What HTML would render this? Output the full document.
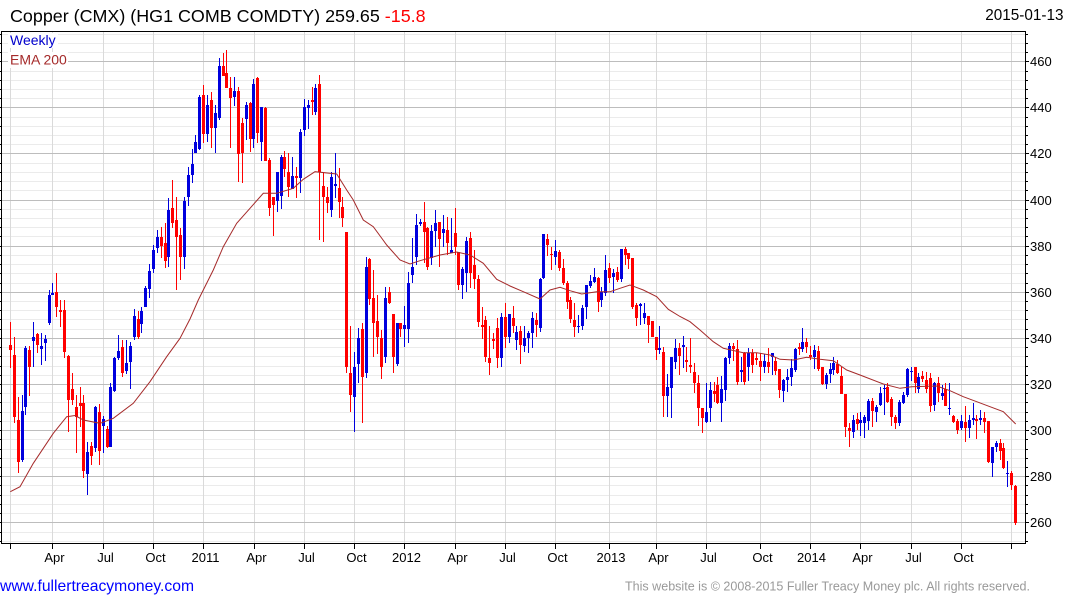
<!DOCTYPE html>
<html>
<head>
<meta charset="utf-8">
<style>
html,body{margin:0;padding:0;background:#fff;}
body{width:1075px;height:600px;overflow:hidden;position:relative;}
svg{position:absolute;left:0;top:0;}
text{font-family:"Liberation Sans",Arial,sans-serif;}
</style>
</head>
<body>
<svg width="1075" height="600" viewBox="0 0 1075 600" xmlns="http://www.w3.org/2000/svg">
<rect x="0" y="0" width="1075" height="600" fill="#fff"/>
<!-- minor horizontal grid -->
<path fill="none" stroke="#ebebeb" stroke-width="1" d="M2 34.5H1025M2 43.5H1025M2 52.5H1025M2 71.5H1025M2 80.5H1025M2 89.5H1025M2 98.5H1025M2 117.5H1025M2 126.5H1025M2 135.5H1025M2 144.5H1025M2 163.5H1025M2 172.5H1025M2 181.5H1025M2 190.5H1025M2 209.5H1025M2 218.5H1025M2 227.5H1025M2 236.5H1025M2 255.5H1025M2 264.5H1025M2 273.5H1025M2 283.5H1025M2 301.5H1025M2 310.5H1025M2 319.5H1025M2 329.5H1025M2 347.5H1025M2 356.5H1025M2 366.5H1025M2 375.5H1025M2 393.5H1025M2 402.5H1025M2 412.5H1025M2 421.5H1025M2 439.5H1025M2 449.5H1025M2 458.5H1025M2 467.5H1025M2 485.5H1025M2 495.5H1025M2 504.5H1025M2 513.5H1025M2 532.5H1025M2 541.5H1025"/>
<!-- vertical grid -->
<path fill="none" stroke="#dadada" stroke-width="1" d="M10.5 32V543M52.5 32V543M103.5 32V543M153.5 32V543M203.5 32V543M254.5 32V543M304.5 32V543M354.5 32V543M404.5 32V543M455.5 32V543M505.5 32V543M555.5 32V543M609.5 32V543M656.5 32V543M706.5 32V543M760.5 32V543M810.5 32V543M860.5 32V543M911.5 32V543M961.5 32V543M1011.5 32V543"/>
<!-- major horizontal grid -->
<path fill="none" stroke="#bdbdbd" stroke-width="1" d="M2 61.5H1025M2 107.5H1025M2 153.5H1025M2 200.5H1025M2 246.5H1025M2 292.5H1025M2 338.5H1025M2 384.5H1025M2 430.5H1025M2 476.5H1025M2 522.5H1025"/>

<!-- legend backgrounds -->
<rect x="8" y="33" width="50" height="15" fill="#fff"/>
<rect x="8" y="52" width="60" height="16" fill="#fff"/>
<text x="10" y="45" font-size="14" fill="#0000cc">Weekly</text>
<text x="10" y="64.5" font-size="14" fill="#a52a2a">EMA 200</text>

<!-- candles red -->
<path fill="none" stroke="#ff0000" stroke-width="1" d="M10.5 322V368M14.5 337V423M18.5 397V473M29.5 346V396M37.5 333V353M56.5 273V317M60.5 300V327M64.5 300V358M68.5 355V432M72.5 373V405M76.5 395V453M80.5 387V427M83.5 395V478M91.5 442V465M99.5 404V465M107.5 426V448M122.5 340V377M138.5 311V339M161.5 227V258M165.5 223V268M172.5 180V228M176.5 197V290M180.5 228V280M203.5 85V143M211.5 92V148M223.5 53V76M226.5 50V88M230.5 77V148M238.5 87V182M242.5 118V183M250.5 102V152M257.5 77V143M265.5 107V161M269.5 158V216M273.5 197V236M284.5 151V177M288.5 153V197M296.5 167V198M312.5 87V115M319.5 75V240M323.5 172V242M327.5 187V213M339.5 168V218M342.5 197V227M346.5 232V373M350.5 326V412M362.5 323V423M369.5 258V305M373.5 270V357M377.5 295V354M381.5 330V379M389.5 287V304M393.5 314V373M400.5 323V337M424.5 202V263M427.5 227V270M439.5 222V267M447.5 217V255M455.5 208V255M458.5 252V290M470.5 232V288M474.5 250V289M478.5 275V327M482.5 307V339M485.5 316V362M489.5 326V375M493.5 333V349M497.5 318V368M505.5 303V348M513.5 306V333M520.5 326V364M536.5 313V337M547.5 234V256M551.5 247V270M559.5 250V271M563.5 259V285M567.5 281V309M570.5 297V323M574.5 303V337M598.5 277V312M609.5 263V283M617.5 267V282M625.5 247V265M628.5 253V269M632.5 258V309M636.5 303V326M648.5 316V343M652.5 321V337M656.5 337V360M663.5 347V417M679.5 343V375M686.5 347V372M690.5 338V373M694.5 363V393M698.5 375V426M702.5 408V433M714.5 382V402M717.5 377V404M733.5 343V361M737.5 340V385M744.5 352V385M752.5 349V373M756.5 353V365M760.5 353V381M768.5 348V373M775.5 357V375M779.5 369V398M799.5 343V355M806.5 338V353M810.5 346V360M818.5 346V371M822.5 367V385M837.5 360V374M841.5 367V394M845.5 394V437M849.5 423V447M857.5 413V430M872.5 398V427M887.5 383V403M891.5 397V426M895.5 415V429M915.5 367V393M922.5 371V382M926.5 372V393M930.5 373V412M938.5 377V402M945.5 383V406M953.5 415V423M957.5 419V434M965.5 406V442M976.5 415V439M984.5 412V433M988.5 421V463M1000.5 439V460M1003.5 443V469M1011.5 471V490M1015.5 485V525"/>
<path fill="none" stroke="#ff0000" stroke-width="3" d="M10.5 345V350M14.5 355V417M18.5 420V462M29.5 350V367M37.5 334V345M56.5 292V307M60.5 310V312M64.5 310V352M68.5 356V400M72.5 389V400M76.5 407V417M80.5 403V406M83.5 403V471M91.5 446V456M99.5 412V451M107.5 429V447M122.5 347V373M138.5 319V337M161.5 237V246M165.5 243V261M172.5 208V223M176.5 220V237M180.5 235V257M203.5 95V134M211.5 100V128M223.5 66V76M226.5 73V88M230.5 88V98M238.5 91V154M242.5 123V153M250.5 103V139M257.5 78V133M265.5 108V161M269.5 160V208M273.5 197V205M284.5 157V169M288.5 172V187M296.5 176V178M312.5 100V102M319.5 84V172M323.5 186V197M327.5 197V203M339.5 188V202M342.5 207V218M346.5 232V367M350.5 373V395M362.5 329V377M369.5 259V299M373.5 298V323M377.5 321V337M381.5 338V367M389.5 292V303M393.5 314V357M400.5 323V329M424.5 222V232M427.5 228V267M439.5 222V239M447.5 230V243M455.5 233V247M458.5 252V285M470.5 238V273M474.5 265V279M478.5 279V322M482.5 325V327M485.5 320V357M489.5 358V363M493.5 339V341M497.5 328V358M505.5 317V337M513.5 318V326M520.5 331V345M536.5 320V325M547.5 239V245M551.5 254V255M559.5 252V268M563.5 268V283M567.5 283V302M570.5 300V319M574.5 320V327M598.5 278V302M609.5 268V278M617.5 272V280M625.5 249V255M628.5 253V259M632.5 258V307M636.5 305V318M648.5 316V325M652.5 321V337M656.5 337V350M663.5 352V396M679.5 348V356M686.5 360V362M690.5 365V367M694.5 372V383M698.5 383V408M702.5 408V418M714.5 391V394M717.5 385V403M733.5 346V349M737.5 349V382M744.5 353V382M752.5 353V365M756.5 358V360M760.5 361V367M768.5 362V367M775.5 361V371M779.5 369V390M799.5 347V349M806.5 342V347M810.5 355V357M818.5 351V369M822.5 367V384M837.5 364V373M841.5 376V394M845.5 394V427M849.5 428V431M857.5 419V424M872.5 401V411M887.5 387V402M891.5 399V417M895.5 417V423M915.5 367V383M922.5 376V379M926.5 380V389M930.5 378V406M938.5 383V393M945.5 389V406M953.5 416V422M957.5 421V430M965.5 422V428M976.5 419V421M984.5 418V422M988.5 421V462M1000.5 443V451M1003.5 448V468M1011.5 473V485M1015.5 486V523"/>
<!-- candles blue -->
<path fill="none" stroke="#0000dd" stroke-width="1" d="M22.5 395V462M25.5 346V415M33.5 322V367M41.5 333V365M45.5 335V361M49.5 290V325M52.5 283V295M87.5 442V495M95.5 406V452M103.5 416V453M110.5 383V447M114.5 357V392M118.5 335V360M126.5 340V374M130.5 342V389M134.5 309V340M141.5 307V333M145.5 286V307M149.5 264V298M153.5 245V273M157.5 230V253M168.5 198V267M184.5 197V269M188.5 167V206M192.5 149V183M195.5 135V153M199.5 95V150M207.5 95V142M215.5 105V153M219.5 58V120M234.5 77V106M246.5 102V140M253.5 79V148M261.5 107V161M277.5 172V212M281.5 155V209M292.5 157V189M300.5 129V193M304.5 99V136M308.5 100V129M315.5 84V115M331.5 172V217M335.5 153V198M354.5 352V432M358.5 328V383M366.5 257V378M385.5 287V363M397.5 323V366M404.5 306V347M408.5 272V343M412.5 238V283M416.5 214V265M420.5 219V226M431.5 225V265M435.5 210V247M443.5 215V247M451.5 218V253M462.5 267V299M466.5 237V292M501.5 313V367M509.5 314V343M516.5 326V350M524.5 326V352M528.5 331V353M532.5 312V348M540.5 278V332M543.5 234V279M555.5 240V265M578.5 315V333M582.5 305V330M586.5 285V319M590.5 275V288M594.5 268V283M601.5 287V307M605.5 255V296M613.5 269V293M621.5 249V282M640.5 303V325M644.5 303V324M659.5 326V354M667.5 374V417M671.5 357V418M675.5 339V369M683.5 336V368M706.5 383V423M710.5 382V422M721.5 376V422M725.5 357V401M729.5 343V364M741.5 357V382M748.5 348V381M764.5 354V373M772.5 353V375M783.5 379V402M787.5 369V392M791.5 359V386M795.5 348V372M802.5 328V352M814.5 345V369M826.5 373V389M830.5 363V383M833.5 357V375M853.5 415V438M860.5 412V436M864.5 415V438M868.5 399V430M876.5 405V422M880.5 387V406M884.5 385V415M899.5 400V426M903.5 392V404M907.5 368V397M911.5 367V381M918.5 373V393M934.5 382V411M942.5 385V400M949.5 383V415M961.5 415V430M969.5 415V438M973.5 403V425M980.5 410V425M992.5 447V477M996.5 441V452M1007.5 461V487"/>
<path fill="none" stroke="#0000dd" stroke-width="3" d="M22.5 411V460M25.5 348V407M33.5 337V341M41.5 346V349M45.5 339V343M49.5 295V323M52.5 293V295M87.5 452V474M95.5 407V448M103.5 419V426M110.5 387V447M114.5 358V391M118.5 351V358M126.5 363V371M130.5 346V362M134.5 316V337M141.5 311V324M145.5 288V307M149.5 271V289M153.5 250V269M157.5 237V248M168.5 210V257M184.5 201V257M188.5 175V197M192.5 164V175M195.5 142V153M199.5 97V149M207.5 105V134M215.5 113V128M219.5 66V118M234.5 91V97M246.5 105V119M253.5 84V139M261.5 107V142M277.5 172V201M281.5 157V196M292.5 176V189M300.5 132V178M304.5 107V130M308.5 105V108M315.5 88V112M331.5 177V210M335.5 184V186M354.5 367V397M358.5 338V364M366.5 267V373M385.5 298V357M397.5 323V364M404.5 325V329M408.5 283V329M412.5 267V275M416.5 225V257M420.5 222V224M431.5 231V258M435.5 223V231M443.5 229V233M451.5 250V253M462.5 269V285M466.5 241V273M501.5 317V358M509.5 314V337M516.5 332V340M524.5 338V346M528.5 333V338M532.5 318V333M540.5 279V328M543.5 234V278M555.5 251V257M578.5 326V327M582.5 308V326M586.5 285V307M590.5 281V286M594.5 277V282M601.5 292V300M605.5 270V293M613.5 273V277M621.5 249V279M640.5 304V306M644.5 313V318M659.5 348V350M667.5 387V396M671.5 357V388M675.5 348V362M683.5 345V347M706.5 412V422M710.5 390V408M721.5 389V403M725.5 358V390M729.5 346V358M741.5 370V372M748.5 353V367M764.5 361V367M772.5 353V357M783.5 380V391M787.5 377V380M791.5 368V377M795.5 349V370M802.5 342V349M814.5 350V357M826.5 375V384M830.5 369V374M833.5 363V370M853.5 420V432M860.5 420V423M864.5 417V423M868.5 401V421M876.5 407V412M880.5 393V405M884.5 388V389M899.5 402V423M903.5 395V403M907.5 369V395M911.5 371V372M918.5 377V389M934.5 383V405M942.5 393V396M949.5 408V409M961.5 421V428M969.5 420V428M973.5 418V420M980.5 418V420M992.5 447V463M996.5 443V447M1007.5 473V474"/>

<!-- EMA 200 -->
<polyline fill="none" stroke="#a52a2a" stroke-width="1" points="10.3,491.7 20,486.7 33.3,463.3 53.3,433.3 66.7,416.7 75,415.5 83.3,420 100,423.3 113.3,418.3 133.3,403.3 150,381.7 166.7,356.7 180,338.3 190,319 198.3,300 213.3,270 223.3,246.7 236.7,223.3 250,208.3 263.3,193.3 276.7,193.3 293.3,188.3 303.3,179.3 315,171.7 336.7,174 346.7,190 353.3,200 363.3,220 373.3,226.7 386.7,245 400,260 410,264 420,260.7 440,255 456.7,252 470,255 483.3,263.3 496.7,279.3 510,286 523.3,291.7 540,299 550,290 560,287.3 570,290.7 581.7,294 596.7,291.7 610,291.7 620,288.3 630,285 643.3,290 656.7,296.7 668.3,309.3 680,316.5 690,321.7 700,330 713.3,341.7 723.3,348.3 743.3,352.7 756.7,352.7 770,355 780,359.3 793.3,360 806.7,357.3 820,359.3 833.3,360.7 846.7,370 860,375 883.3,384 900,388.3 911.7,386.7 936.7,386 950,390.7 963.3,396.7 976.7,401.7 990,406.7 1003.3,411.7 1015.7,424"/>

<!-- frame -->
<path fill="none" stroke="#000" stroke-width="1" d="M1.5 31.5H1025.5V543.5H1.5Z"/>
<!-- left ticks -->
<path fill="none" stroke="#000" stroke-width="1" d="M0 34.5H1.5M0 43.5H1.5M0 52.5H1.5M0 61.5H1.5M0 71.5H1.5M0 80.5H1.5M0 89.5H1.5M0 98.5H1.5M0 107.5H1.5M0 117.5H1.5M0 126.5H1.5M0 135.5H1.5M0 144.5H1.5M0 153.5H1.5M0 163.5H1.5M0 172.5H1.5M0 181.5H1.5M0 190.5H1.5M0 200.5H1.5M0 209.5H1.5M0 218.5H1.5M0 227.5H1.5M0 236.5H1.5M0 246.5H1.5M0 255.5H1.5M0 264.5H1.5M0 273.5H1.5M0 283.5H1.5M0 292.5H1.5M0 301.5H1.5M0 310.5H1.5M0 319.5H1.5M0 329.5H1.5M0 338.5H1.5M0 347.5H1.5M0 356.5H1.5M0 366.5H1.5M0 375.5H1.5M0 384.5H1.5M0 393.5H1.5M0 402.5H1.5M0 412.5H1.5M0 421.5H1.5M0 430.5H1.5M0 439.5H1.5M0 449.5H1.5M0 458.5H1.5M0 467.5H1.5M0 476.5H1.5M0 485.5H1.5M0 495.5H1.5M0 504.5H1.5M0 513.5H1.5M0 522.5H1.5M0 532.5H1.5M0 541.5H1.5"/>
<!-- right ticks -->
<path fill="none" stroke="#000" stroke-width="1" d="M1026 34.5H1028M1026 43.5H1028M1026 52.5H1028M1026 61.5H1029M1026 71.5H1028M1026 80.5H1028M1026 89.5H1028M1026 98.5H1028M1026 107.5H1029M1026 117.5H1028M1026 126.5H1028M1026 135.5H1028M1026 144.5H1028M1026 153.5H1029M1026 163.5H1028M1026 172.5H1028M1026 181.5H1028M1026 190.5H1028M1026 200.5H1029M1026 209.5H1028M1026 218.5H1028M1026 227.5H1028M1026 236.5H1028M1026 246.5H1029M1026 255.5H1028M1026 264.5H1028M1026 273.5H1028M1026 283.5H1028M1026 292.5H1029M1026 301.5H1028M1026 310.5H1028M1026 319.5H1028M1026 329.5H1028M1026 338.5H1029M1026 347.5H1028M1026 356.5H1028M1026 366.5H1028M1026 375.5H1028M1026 384.5H1029M1026 393.5H1028M1026 402.5H1028M1026 412.5H1028M1026 421.5H1028M1026 430.5H1029M1026 439.5H1028M1026 449.5H1028M1026 458.5H1028M1026 467.5H1028M1026 476.5H1029M1026 485.5H1028M1026 495.5H1028M1026 504.5H1028M1026 513.5H1028M1026 522.5H1029M1026 532.5H1028M1026 541.5H1028"/>
<!-- bottom ticks -->
<path fill="none" stroke="#000" stroke-width="1" d="M10.5 544V549M52.5 544V549M103.5 544V549M153.5 544V549M203.5 544V549M254.5 544V549M304.5 544V549M354.5 544V549M404.5 544V549M455.5 544V549M505.5 544V549M555.5 544V549M609.5 544V549M656.5 544V549M706.5 544V549M760.5 544V549M810.5 544V549M860.5 544V549M911.5 544V549M961.5 544V549M1011.5 544V549"/>

<!-- right axis labels -->
<g font-size="13" fill="#000">
<text x="1030" y="66">460</text>
<text x="1030" y="112">440</text>
<text x="1030" y="158">420</text>
<text x="1030" y="205">400</text>
<text x="1030" y="251">380</text>
<text x="1030" y="297">360</text>
<text x="1030" y="343">340</text>
<text x="1030" y="389">320</text>
<text x="1030" y="435">300</text>
<text x="1030" y="481">280</text>
<text x="1030" y="527">260</text>
</g>
<!-- bottom axis labels -->
<g font-size="13" fill="#000" text-anchor="middle">
<text x="54.5" y="562">Apr</text>
<text x="105.5" y="562">Jul</text>
<text x="155.5" y="562">Oct</text>
<text x="205.5" y="562">2011</text>
<text x="256.5" y="562">Apr</text>
<text x="306.5" y="562">Jul</text>
<text x="356.5" y="562">Oct</text>
<text x="406.5" y="562">2012</text>
<text x="457.5" y="562">Apr</text>
<text x="507.5" y="562">Jul</text>
<text x="557.5" y="562">Oct</text>
<text x="611" y="562">2013</text>
<text x="658.5" y="562">Apr</text>
<text x="708.5" y="562">Jul</text>
<text x="762.5" y="562">Oct</text>
<text x="811.5" y="562">2014</text>
<text x="862.5" y="562">Apr</text>
<text x="913.5" y="562">Jul</text>
<text x="963.5" y="562">Oct</text>
</g>

<!-- title -->
<text x="10" y="22" font-size="17.9" fill="#000">Copper (CMX) (HG1 COMB COMDTY) 259.65 <tspan fill="#ff0000">-15.8</tspan></text>
<text x="1063.5" y="20" font-size="15.3" fill="#000" text-anchor="end">2015-01-13</text>

<!-- footer -->
<text x="0" y="591" font-size="16" fill="#0000ff" textLength="194" lengthAdjust="spacingAndGlyphs">www.fullertreacymoney.com</text>
<text x="625" y="590.5" font-size="12.5" fill="#999999" textLength="405" lengthAdjust="spacingAndGlyphs">This website is © 2008-2015 Fuller Treacy Money plc. All rights reserved.</text>
</svg>
</body>
</html>
